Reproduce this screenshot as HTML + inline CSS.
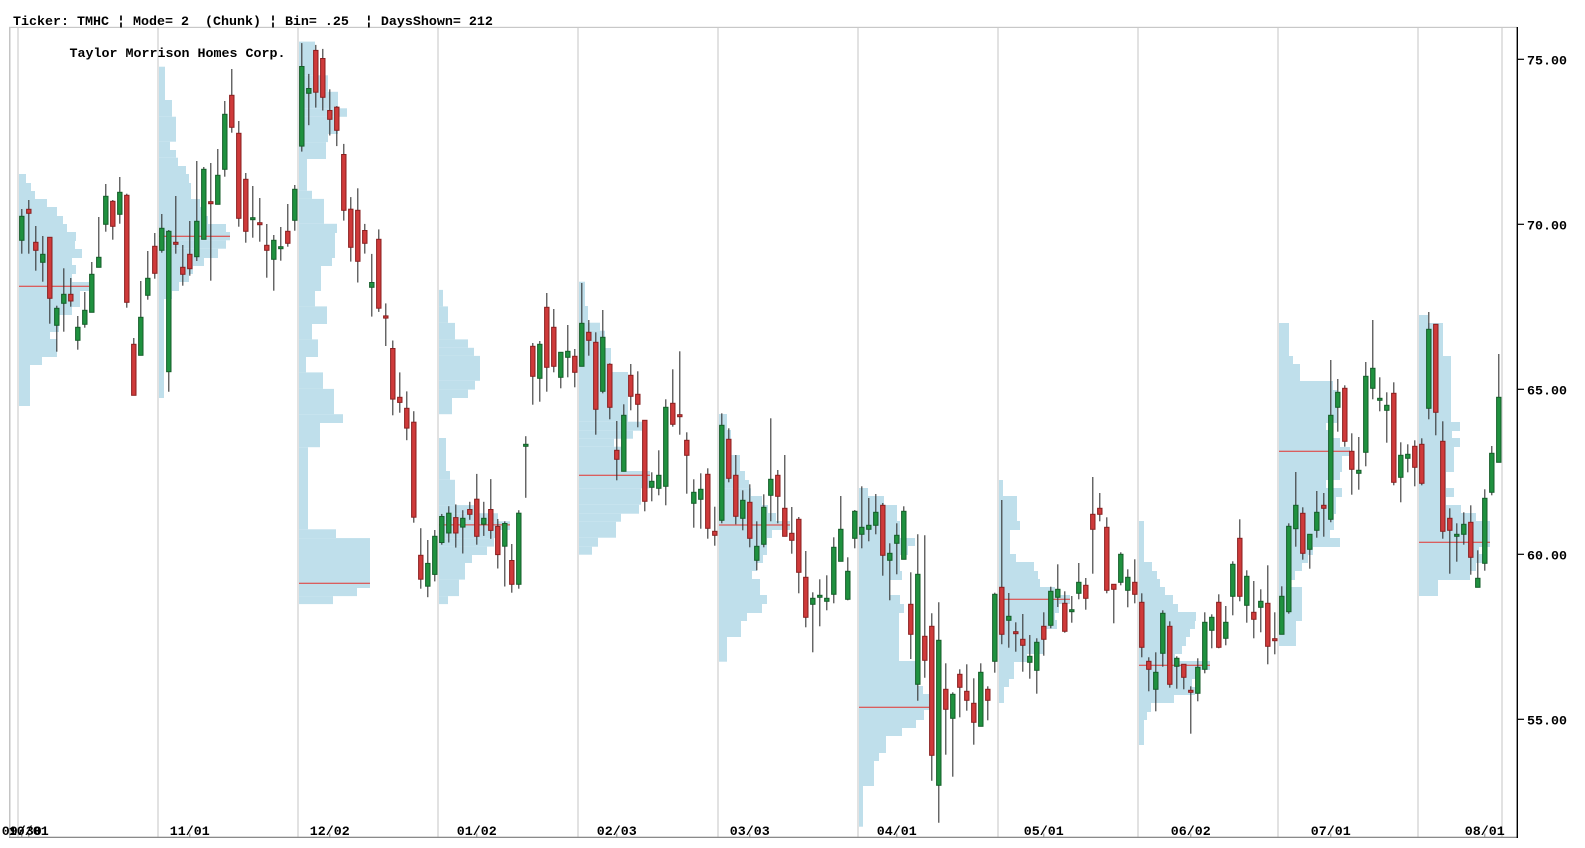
<!DOCTYPE html>
<html><head><meta charset="utf-8"><style>
html,body{margin:0;padding:0;background:#fff;}
svg{display:block;}
text{font-family:"Liberation Mono","DejaVu Sans Mono",monospace;font-size:13.33px;font-weight:bold;fill:#000;white-space:pre;}
</style></head><body>
<svg id="c" width="1585" height="848" viewBox="0 0 1585 848" xmlns="http://www.w3.org/2000/svg">
<rect x="0" y="0" width="1585" height="848" fill="#fff"/>
<g id="grid"></g>
<g id="prof" fill="#bfdfeb"></g>
<g id="poc" stroke="#e3342f" stroke-width="1"></g>
<g id="cand"></g>
<g id="axes"></g>
<text x="13" y="25">Ticker: TMHC ¦ Mode= 2  (Chunk) ¦ Bin= .25  ¦ DaysShown= 212</text>
<text x="69.5" y="57">Taylor Morrison Homes Corp.</text>
<text x="1527" y="64.3">75.00</text>
<text x="1527" y="229.3">70.00</text>
<text x="1527" y="394.3">65.00</text>
<text x="1527" y="559.3">60.00</text>
<text x="1527" y="724.3">55.00</text>
<g text-anchor="middle">
<text x="21.8" y="835">09/30</text>
<text x="28.8" y="835">10/01</text>
<text x="189.8" y="835">11/01</text>
<text x="329.8" y="835">12/02</text>
<text x="476.8" y="835">01/02</text>
<text x="616.8" y="835">02/03</text>
<text x="749.8" y="835">03/03</text>
<text x="896.8" y="835">04/01</text>
<text x="1043.8" y="835">05/01</text>
<text x="1190.8" y="835">06/02</text>
<text x="1330.8" y="835">07/01</text>
<text x="1484.8" y="835">08/01</text>
</g>
</svg>
<script>
(function(){
var NS="http://www.w3.org/2000/svg";
function el(parent,tag,attrs){var e=document.createElementNS(NS,tag);for(var k in attrs)e.setAttribute(k,attrs[k]);parent.appendChild(e);return e;}
var grid=document.getElementById("grid"),prof=document.getElementById("prof"),poc=document.getElementById("poc"),cand=document.getElementById("cand"),axes=document.getElementById("axes");
el(grid,"rect",{x:9,y:27,width:1.5,height:810,fill:"#c4c4c4"});
el(grid,"rect",{x:9,y:26.8,width:1508,height:1.2,fill:"#c8c8c8"});
for(var c=0;c<=10;c++){el(grid,"rect",{x:17+140*c,y:28,width:2,height:809,fill:"#e2e2e2"});}
el(grid,"rect",{x:1501,y:28,width:2,height:809,fill:"#e2e2e2"});
var P=[
[[174,183,26],[183,191,31],[191,199,35],[199,207,47],[207,216,57],[216,224,63],[224,232,67],[232,241,76],[241,249,75],[249,258,82],[258,265,72],[265,274,76],[274,282,72],[282,291,89],[291,299,80],[299,307,80],[307,315,72],[315,324,59],[324,332,59],[332,339,50],[339,357,57],[357,365,42],[365,406,30]],
[[66.7,100,165],[100,116.7,172],[116.7,141.7,176],[141.7,150,170],[150,157.7,176],[157.7,166,178],[166,174,186],[174,183,189],[183,199,191],[199,207,200],[207,216,205],[216,224,208],[224,232,226],[232,240.3,230],[240.3,248.7,226],[248.7,258,218],[258,266,204],[266,274,193],[274,282,189],[282,291,179],[291,299,172],[299,398,164]],
[[41.6,75.3,315],[75.3,91.8,328],[91.8,108.3,338],[108.3,116.8,347],[116.8,134,338],[134,142.1,328],[142.1,159,326],[159,190.8,307],[190.8,198.9,312],[198.9,223.8,324],[223.8,233,337],[233,258,335],[258,266,332],[266,291,321],[291,306.4,315],[306.4,324,327],[324,339.4,312],[339.4,357,318],[357,372.4,306],[372.4,388.9,323],[388.9,414.2,334],[414.2,423,343],[423,447.2,320],[447.2,529.3,308],[529.3,538.1,336],[538.1,588,370],[588,596.1,357],[596.1,604.1,333]],
[[289.9,306.4,443],[306.4,322.9,448],[322.9,339.4,455],[339.4,347.8,468],[347.8,355.9,474],[355.9,380.8,480],[380.8,389.6,475],[389.6,398,468],[398,414.2,452],[438,471,446],[471,479.8,450],[479.8,505.1,455],[505.1,513.2,474],[513.2,521.3,498],[521.3,530,510],[530,538.1,498],[538.1,546.6,494],[546.6,555,487],[555,563,472],[563,579.6,465],[579.6,596.1,459],[596.1,604.1,448]],
[[281.7,306,585],[306,322.7,588],[322.7,330.7,600],[330.7,348,605],[348,372,611],[372,421.7,628],[421.7,430.7,642],[430.7,438.7,633],[438.7,446.7,614],[446.7,471,621],[471,488.3,650],[488.3,504.7,641],[504.7,513.7,639],[513.7,521.7,621],[521.7,537.7,616],[537.7,546.7,598],[546.7,554.7,592]],
[[414,430,727],[430,455,731],[455,471,740],[471,480,745],[480,488.3,749],[488.3,496,751],[496,505,762],[505,513,768],[513,521,776],[521,530,790],[530,538,772],[538,555,767],[555,563,763],[563,571,757],[571,579,752],[579,595,760],[595,604,767],[604,613,762],[613,621,747],[621,637,741],[637,661.7,727]],
[[488,496,868],[496,505,884],[505,521,897],[521,538,900],[538,546,915],[546,555,908],[555,571,900],[571,580,902],[580,595,890],[595,604,900],[604,613,904],[613,661,899],[661,686,918],[686,694,923],[694,710,929],[710,720,924],[720,728,916],[728,736,902],[736,753,886],[753,761,879],[761,786,874],[786,826.7,863]],
[[480,496,1003],[496,521,1017],[521,530,1020],[530,554,1010],[554,562,1016],[562,571,1034],[571,579,1038],[579,587,1040],[587,595,1055],[595,604,1070],[604,613,1059],[613,620,1055],[620,629,1057],[629,654,1044],[654,662,1027],[662,679,1014],[679,687,1009],[687,703,1004]],
[[521,562,1144],[562,571,1152],[571,579,1157],[579,587,1160],[587,595,1165],[595,604,1173],[604,612,1178],[612,621,1196],[621,629,1195],[629,637,1190],[637,646,1186],[646,654,1182],[654,661,1175],[661,670,1210],[670,679,1196],[679,687,1192],[687,695,1195],[695,703,1174],[703,712,1151],[712,720,1147],[720,745,1144]],
[[323,356,1289],[356,364,1293],[364,381,1300],[381,390,1333],[390,423,1337],[423,430,1326],[430,438,1333],[438,447,1340],[447,456,1350],[456,464,1342],[464,472,1342],[472,480,1340],[480,488,1326],[488,497,1342],[497,505,1336],[505,514,1336],[514,522,1334],[522,530,1334],[530,538,1330],[538,547,1340],[547,555,1313],[555,563,1308],[563,571,1302],[571,580,1295],[580,587,1286],[587,621,1302],[621,646,1296]],
[[315,323,1428],[323,356,1443],[356,422,1451],[422,431,1460],[431,438,1452],[438,447,1460],[447,472,1454],[472,488,1446],[488,497,1454],[497,505,1446],[505,513,1461],[513,521,1476],[521,547,1490],[547,554,1479],[554,563,1483],[563,571,1476],[571,580,1470],[580,596,1438]]
];
var POC=[[286.3,89],[236.3,230],[583.2,370],[524.9,510],[475.3,650],[525,790],[707.3,929],[599.3,1070],[665.3,1210],[451.3,1350],[542.3,1490]];
for(var c=0;c<P.length;c++){var x0=19+140*c;for(var i=0;i<P[c].length;i++){var b=P[c][i];el(prof,"rect",{x:x0,y:b[0],width:Math.max(0,b[2]-x0),height:b[1]-b[0]});}
 el(poc,"line",{x1:x0,y1:POC[c][0],x2:POC[c][1],y2:POC[c][0]});}
var D=[
216.3,240.3,209,253.7,1, 209.3,213.3,200,253.7,0, 242.3,250.3,226,270.7,0, 254.3,262.3,236,281.7,1, 237.3,298.3,237,323.7,0,
308.3,325.3,305.7,351.7,1, 294.3,303.3,268.3,331.7,1, 294.3,301,278,306.7,0, 327.3,340.3,316,349.7,1, 310.3,324.3,292,327.7,1,
274.3,312.3,262,312.3,1, 257.3,267.3,217,267.3,1, 196.3,224.3,184,231.7,1, 201.3,226.3,200,239.7,0, 192.3,214.3,177,223.7,1,
195.3,302.3,193.7,307.7,0, 344.3,395.3,338,395.3,0, 317.3,355.3,281,355.3,1, 278.3,295.3,251,299.7,1, 246.3,273.3,233,278.7,0,
228.3,250.3,214,252.7,1, 231.3,371.7,230,391.7,1, 242.3,244.3,196,253.7,0, 267.3,274.3,245,285.7,0, 254.3,268.7,221,275.7,0,
221.3,256.7,161,261,1, 169.3,239.3,167,239.3,1, 201.7,203.7,163,280.7,0, 175.3,204.3,149,204.3,1, 114.3,169.3,101,176.7,1,
95.3,127.3,69,132.7,0, 133.3,218.3,121,226.7,0, 179.3,231.3,173,242.7,0, 217.7,219.7,186,237.7,1, 222.7,224.7,198,241.7,0,
245.3,250.3,224,277.7,0, 240.3,259.3,235,290.7,1, 246.7,248.7,227,260.7,1, 231.3,243.3,204,246.7,0, 189.3,220.3,185,230.7,1,
66.5,146.1,43.1,151.6,1, 88.5,93.3,73.9,125.2,1, 50.4,92.2,44.9,107.6,0, 58.5,97.3,48.9,110.5,0, 110.5,119.3,89.3,135.5,0,
107.2,130.3,106.1,146.1,0, 154.5,210.3,143.9,220.6,0, 209.2,247.3,197.1,261.6,0, 210.3,261.3,188.3,282.5,0, 230.5,243.3,223.9,253.6,0,
282.5,287.3,253.9,316.6,1, 239.3,308.2,229.4,311.9,0, 315.9,318.1,303.4,346,0, 348.5,399.1,340.5,415.3,0, 397.3,402.4,372.4,412.7,0,
408.3,428.1,391.4,440.2,0, 422.2,517.2,411.2,522.7,0, 555.3,579.2,528.2,588.7,0, 563.4,586.2,540,597.2,1, 536.3,574.4,530,581.4,1,
516.5,542.5,513.9,544.7,1, 513.2,533,506.2,542.5,1, 517.6,533,504.4,547.6,0, 518.3,527.1,510.2,553.5,1, 509.5,514.3,501.8,519.8,0,
499.2,536.3,473.9,544.7,0, 518.3,524.2,501.8,535.9,1, 509.5,530.4,479.1,538.8,0, 526.4,554.6,519,568.5,0, 523.5,546.2,521.3,586.5,1,
560.5,584.3,544,592.7,0, 513.2,584.3,510.2,588.7,1, 444.3,446.3,436.2,497.8,1, 346.3,376.3,343,404.7,0, 344.3,378.3,341,401.7,1,
307.3,367.3,293,391.7,0, 327.3,366.3,309,372.3,0, 352.3,377.3,352.3,388.3,1, 351.3,357.3,325,377.3,1, 356.3,372.3,349,387.3,0,
323.3,366.3,283,366.3,1, 332.3,340.3,320,355.7,0, 342.3,409.3,332.3,434.7,0, 337.3,391.3,310,393.3,1, 364.3,407.3,363.3,419.3,0,
450.3,459.3,421,480.3,0, 415.3,471.3,404.3,471.3,1, 375.3,396.3,364,410.3,0, 394.3,404.3,371.3,427.3,0, 420.3,501.3,420.3,511.3,0,
481.3,487.3,472.3,501.3,1, 475.3,488.3,450.3,495.3,1, 407.3,486.3,399.3,505.3,1, 403.3,424.3,369.3,426.7,0, 414.7,416.7,351.3,434.7,0,
440.3,455.3,432.3,493.7,0, 492.3,503.3,479.3,527.7,1, 489.3,499.3,473.3,528.7,1, 474.3,528.3,468.3,538.7,0, 531.3,535.3,506.7,545.7,0,
425.3,520.3,413.3,523.3,1, 439.3,478.3,428.3,482.3,0, 475.3,516.3,455,524.3,0, 500.3,518.3,490.3,530.3,1, 502.3,538.3,484.3,547.3,0,
546.3,560.3,521.3,570.3,1, 507.3,544.3,494.3,547.3,1, 479.3,495.3,418.3,521.3,1, 475.3,496.3,470,523.3,0, 508.3,536.3,455,536.3,0,
533.3,540.3,507,553.7,0, 519.3,572.3,517,593.3,0, 577.3,617.3,551,627.3,0, 598.3,604.3,592.3,652.3,1, 595.3,597.3,579.3,626.3,1,
598.3,601.3,575.3,610.3,1, 547.3,594.3,537.3,603.3,1, 529.3,561.3,496,561.3,1, 571.3,599.3,557.3,600.3,1, 511.3,538.3,510,548.3,1,
527.3,534.3,486.3,548.3,1, 525.3,529.3,498,541.3,1, 512.3,525.3,494,534.3,1, 505.3,555.3,503,575.7,0, 553.3,560.3,543.3,600.3,1,
535.3,543.3,523.3,574.3,1, 511.3,559.3,506.3,559.3,1, 604.3,634.3,572.3,659,0, 574.3,684.3,534.3,700.7,1, 636.3,660.3,535.3,677.7,0,
626.3,755.3,613.3,780.7,0, 640.3,785.3,602.3,822.7,1, 689.3,709.3,663.3,754.7,0, 694.3,718.3,692.3,776.7,1, 674.3,687.3,669.3,717.3,0,
691.3,700.3,664.3,710.7,0, 703.3,722.3,678.3,744.7,0, 672.3,726.3,663.3,726.3,1, 689.3,700.3,686.3,720.3,0, 594.3,661.3,592.7,672.7,1,
587.3,634.3,500,644.3,0, 616.3,620.3,593,647.7,1, 631.7,633.7,622.3,651.7,0, 639.3,645.3,614,671.7,0, 656.3,662.3,635,678.7,1,
642.3,670.3,638.3,693.7,1, 626.3,639.3,612.3,655.7,0, 591.3,625.3,586.7,628.3,1, 589.3,597.3,564.3,607,1, 603.3,631.3,591.3,632.7,0,
609.7,611.7,596,622.7,1, 582.3,593.3,563,599.3,1, 585.3,598.3,578,609.7,0, 514.3,529.3,477,573.7,0, 508.3,514.3,493,521.3,0,
527.3,590.3,517.3,593.3,0, 584.3,589.3,584.3,623.3,0, 554.3,582.3,552.3,585.3,1, 577.3,590.3,569.3,607.3,1, 582.3,594.3,559.3,603.3,0,
602.3,647.3,593.3,657.3,0, 661.3,669.3,657.3,691.3,0, 672.3,689.3,652.3,711.3,1, 613.3,653.3,610.3,666.7,1, 626.3,684.3,621.3,687.7,0,
658.3,666.3,656.3,688.7,1, 664.3,677.3,664.3,689.3,0, 690.3,692.3,686.3,733.7,0, 667.3,693.3,658.3,701.3,1, 622.3,669.3,612.3,673.3,1,
617.3,630.3,614.3,648.3,1, 602.3,647.3,594.3,648.3,0, 622.3,638.3,606,645.3,1, 564.3,596.3,561.3,615.3,1, 538.3,596.3,519.3,601.3,0,
576.3,605.3,570.3,622.7,1, 612.3,619.3,581,638.3,0, 601.3,607.3,589.3,632.3,1, 603.3,646.3,565.3,664.3,0, 638.7,640.7,612.3,654.3,0,
596.3,634.3,586.3,634.3,1, 526.3,611.7,523.3,613.7,1, 505.3,528.7,472,546.7,1, 513.3,553.3,507.3,559.7,0, 534.3,549.3,534.3,568.7,1,
512.3,530.3,491,537.7,1, 505.3,508.3,493,536.7,0, 415.3,519.3,360,522.3,1, 392.3,407.3,379,431.7,1, 388.3,441.3,385.3,446.7,0,
451.3,469.3,433.3,494.7,0, 470.3,473.3,437,489.7,1, 376.3,452.3,362,466.3,1, 368.3,388.3,320,399.3,1, 398.3,400.3,377.3,411.3,1,
405.3,410.3,392.3,442.7,1, 393.3,482.3,382.3,485.3,0, 455.3,477.3,442.3,502.3,1, 454.3,458.3,444.3,472.3,1, 446.3,467.3,440.3,486.3,0,
444.3,483.3,438.3,485.3,0, 329.3,408.3,312,419.3,1, 324.3,412.3,324.3,435.3,0, 441.3,531.3,421.3,538.7,0, 518.3,530.3,508.3,573.7,0,
534.3,536.3,523.3,561.7,1, 524.3,534.3,512.3,544.7,1, 522.3,557.3,505.3,574.7,0, 578.3,587.3,550.3,587.3,1, 498.3,563.3,489.3,570.7,1,
453.3,492.3,446,495.3,1, 397.3,462.3,354,462.3,1
];
var n=D.length/5;
for(var k=0;k<n;k++){
 var bt=D[5*k],bb=D[5*k+1],wt=D[5*k+2],wb=D[5*k+3],g=D[5*k+4];
 var cx=21.8+7*k;
 el(cand,"line",{x1:cx,y1:wt,x2:cx,y2:wb,stroke:"#333","stroke-width":1.1});
 var h=bb-bt; if(h<1.6){var m=(bt+bb)/2;bt=m-0.8;h=1.6;}
 el(cand,"rect",{x:cx-2.2,y:bt,width:4.4,height:h,fill:g?"#1f913f":"#cf3a3a",stroke:g?"#145e29":"#8a1f1f","stroke-width":1});
}
el(axes,"rect",{x:9,y:836.7,width:1509,height:1.3,fill:"#8a8a8a"});
el(axes,"rect",{x:1516.6,y:27,width:1.4,height:811,fill:"#000"});
var ty=[59.3,224.3,389.3,554.3,719.3];
for(var i=0;i<ty.length;i++){el(axes,"rect",{x:1517,y:ty[i]-0.6,width:7,height:1.2,fill:"#000"});}
var tx=[21.8,28.8,189.8,329.8,476.8,616.8,749.8,896.8,1043.8,1190.8,1330.8,1484.8];
for(var i=0;i<tx.length;i++){el(axes,"rect",{x:tx[i]-0.5,y:833.5,width:1,height:3.5,fill:"#8a8a8a"});}
})();
</script>
</body></html>
